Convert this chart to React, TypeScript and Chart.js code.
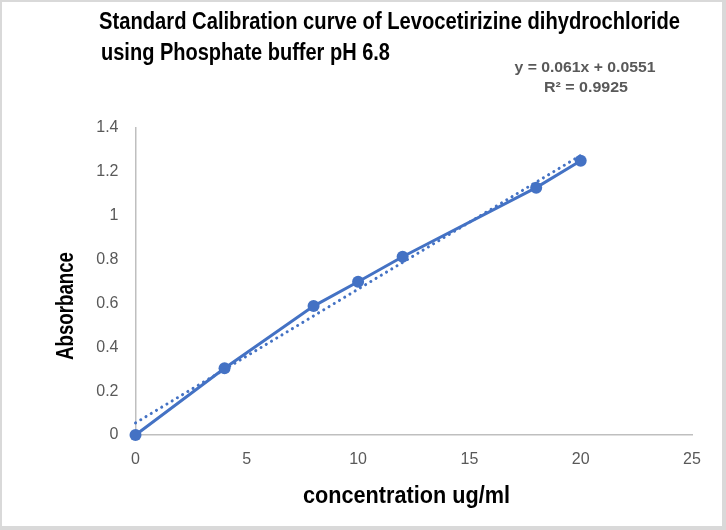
import React, { useEffect, useRef } from "react";
import { Chart, registerables } from "chart.js";

Chart.register(...registerables);

// ---- data ----
const concentration = [0, 4, 8, 10, 12, 18, 20];
const absorbance = [0, 0.304, 0.588, 0.699, 0.813, 1.128, 1.251];
// linear trendline y = 0.061x + 0.0551, end points
const trendX = [0, 20];
const trendY = [0.0551, 1.2751];
const xTicks = [0, 5, 10, 15, 20, 25];
const yTicks = [0, 0.2, 0.4, 0.6, 0.8, 1, 1.2, 1.4];
const titleLines = [
  "Standard Calibration curve of Levocetirizine dihydrochloride",
  "using Phosphate buffer pH 6.8",
];
const equationLines = ["y = 0.061x + 0.0551", "R\u00b2 = 0.9925"];
const xTitle = "concentration ug/ml";
const yTitle = "Absorbance";

// ---- styles ----
const BLUE = "#4472C4";
const AXIS = "#BFBFBF";
const TICK = "#595959";
const FRAME = "#D9D9D9";
const NARROW = "'Liberation Sans Narrow', 'Liberation Sans', sans-serif";
const SANS = "'Liberation Sans', sans-serif";

function fitText(
  ctx: CanvasRenderingContext2D,
  text: string,
  x: number,
  y: number,
  w: number,
  align: CanvasTextAlign,
  rotate = 0
) {
  const m = ctx.measureText(text).width || 1;
  ctx.save();
  ctx.translate(x, y);
  if (rotate) ctx.rotate(rotate);
  ctx.scale(w / m, 1);
  ctx.textAlign = align;
  ctx.textBaseline = "alphabetic";
  ctx.fillText(text, 0, 0);
  ctx.restore();
}

const textPlugin = {
  id: "textPlugin",
  afterDraw(chart: any) {
    const ctx: CanvasRenderingContext2D = chart.ctx;
    const W = chart.width;
    const H = chart.height;
    ctx.save();
    // frame
    ctx.fillStyle = FRAME;
    ctx.fillRect(0, 0, W, 2);
    ctx.fillRect(0, 0, 2, H);
    ctx.fillRect(W - 4, 0, 4, H);
    ctx.fillRect(0, H - 4, W, 4);

    // title
    ctx.fillStyle = "#000000";
    ctx.font = `bold 23px ${NARROW}`;
    fitText(ctx, titleLines[0], 99, 29, 581, "left");
    fitText(ctx, titleLines[1], 101, 60, 289, "left");

    // equation
    ctx.fillStyle = TICK;
    ctx.font = `bold 14px ${NARROW}`;
    fitText(ctx, equationLines[0], 585, 72, 141, "center");
    fitText(ctx, equationLines[1], 586, 92, 84, "center");

    // axis titles
    ctx.fillStyle = "#000000";
    ctx.font = `bold 23px ${NARROW}`;
    fitText(ctx, xTitle, 406.5, 503, 207, "center");
    fitText(ctx, yTitle, 73, 306, 108, "center", -Math.PI / 2);
    ctx.restore();
  },
};

export default function App() {
  const ref = useRef<HTMLCanvasElement>(null);

  useEffect(() => {
    const canvas = ref.current;
    if (!canvas) return;
    const tickFont = { family: SANS, size: 16 };
    const chart = new Chart(canvas, {
      type: "scatter",
      data: {
        datasets: [
          {
            label: "Linear",
            data: trendX.map((x, i) => ({ x, y: trendY[i] })),
            showLine: true,
            borderColor: BLUE,
            backgroundColor: BLUE,
            borderWidth: 3,
            borderDash: [0.1, 6],
            borderCapStyle: "round",
            pointRadius: 0,
            pointHoverRadius: 0,
            clip: false,
            order: 0,
          } as any,
          {
            label: "Absorbance",
            data: concentration.map((x, i) => ({ x, y: absorbance[i] })),
            showLine: true,
            borderColor: BLUE,
            backgroundColor: BLUE,
            borderWidth: 3,
            pointRadius: 6,
            pointHoverRadius: 6,
            pointBorderWidth: 0,
            clip: false,
            order: 1,
          } as any,
        ],
      },
      options: {
        responsive: false,
        animation: false,
        devicePixelRatio: 1,
        layout: { padding: { top: 128, right: 34, left: 0, bottom: 0 } },
        plugins: {
          legend: { display: false },
          tooltip: { enabled: false },
          title: { display: false },
        },
        events: [],
        scales: {
          x: {
            type: "linear",
            min: 0,
            max: 25,
            afterBuildTicks: (s: any) => {
              s.ticks = xTicks.map((v) => ({ value: v }));
            },
            afterFit: (s: any) => {
              s.height = 95;
            },
            grid: { display: false, drawTicks: false },
            border: { display: true, color: AXIS, width: 1.5 },
            ticks: {
              padding: 15,
              color: TICK,
              font: tickFont,
              maxRotation: 0,
              autoSkip: false,
              callback: (v: any) => String(v),
            },
          },
          y: {
            type: "linear",
            min: 0,
            max: 1.4,
            afterBuildTicks: (s: any) => {
              s.ticks = yTicks.map((v) => ({ value: v }));
            },
            afterFit: (s: any) => {
              s.width = 135.5;
            },
            grid: { display: false, drawTicks: false },
            border: { display: true, color: AXIS, width: 1.5 },
            ticks: {
              padding: 17,
              color: TICK,
              font: tickFont,
              autoSkip: false,
              callback: (v: any) => String(v),
            },
          },
        },
      } as any,
      plugins: [textPlugin],
    });
    return () => chart.destroy();
  }, []);

  return (
    <div
      style={{
        position: "fixed",
        left: 0,
        top: 0,
        width: 726,
        height: 530,
        background: "#ffffff",
      }}
    >
      <canvas ref={ref} width={726} height={530} style={{ display: "block" }} />
    </div>
  );
}
